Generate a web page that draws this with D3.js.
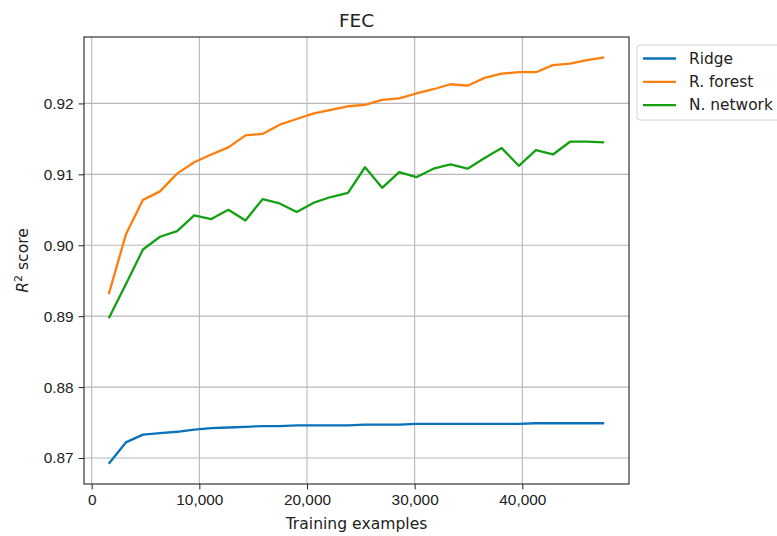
<!DOCTYPE html>
<html>
<head>
<meta charset="utf-8">
<script src="https://cdn.jsdelivr.net/npm/d3@7"></script>
<style>
  body { margin: 0; background: #fff; }
  svg { font-family: "DejaVu Sans", sans-serif; }
  .grid line { stroke: #b8b8b8; stroke-width: 1.1; }
  .axis path, .axis line { stroke: #222; }
  .axis text { fill: #222; font-size: 15.4px; }
  .line { fill: none; stroke-width: 2.3; stroke-linejoin: round; }
</style>
</head>
<body>
<svg width="777" height="536"></svg>
<script>
// training set sizes
var trainSizes = [1587, 3174, 4761, 6348, 7935, 9522, 11109, 12696, 14283, 15870,
  17457, 19044, 20631, 22218, 23805, 25392, 26979, 28566, 30153, 31740,
  33327, 34914, 36501, 38088, 39675, 41262, 42849, 44436, 46023, 47610];

var ridge = [0.8692, 0.8722, 0.8733, 0.8735, 0.8737, 0.8740, 0.8742, 0.8743, 0.8744, 0.8745,
  0.8745, 0.8746, 0.8746, 0.8746, 0.8746, 0.8747, 0.8747, 0.8747, 0.8748, 0.8748,
  0.8748, 0.8748, 0.8748, 0.8748, 0.8748, 0.8749, 0.8749, 0.8749, 0.8749, 0.8749];

var forest = [0.8931, 0.9015, 0.9064, 0.9076, 0.9101, 0.9117, 0.9128, 0.9138, 0.9155, 0.9157,
  0.9170, 0.9178, 0.9186, 0.9191, 0.9196, 0.9198, 0.9205, 0.9207, 0.9214, 0.9220,
  0.9227, 0.9225, 0.9236, 0.9242, 0.9244, 0.9244, 0.9254, 0.9256, 0.9261, 0.9265];

var network = [0.8897, 0.8945, 0.8994, 0.9012, 0.9020, 0.9042, 0.9037, 0.9050, 0.9035, 0.9065,
  0.9059, 0.9047, 0.9060, 0.9068, 0.9074, 0.9110, 0.9081, 0.9103, 0.9096, 0.9108,
  0.9114, 0.9108, 0.9123, 0.9137, 0.9112, 0.9134, 0.9128, 0.9146, 0.9146, 0.9145];

var seriesNames = ["Ridge", "R. forest", "N. network"];
var seriesColors = ["#0b72ba", "#ff7f0e", "#13a013"];
var xTicks = [0, 10000, 20000, 30000, 40000];
var yTicks = [0.87, 0.88, 0.89, 0.90, 0.91, 0.92];

var svg = d3.select("svg"),
    margin = {top: 37, right: 148, bottom: 52, left: 84},
    width = +svg.attr("width") - margin.left - margin.right,
    height = +svg.attr("height") - margin.top - margin.bottom;

var series = [ridge, forest, network].map(function(vals, i) {
  return {name: seriesNames[i], color: seriesColors[i],
          values: vals.map(function(v, j) { return {n: trainSizes[j], r2: v}; })};
});

// matplotlib-like 5% padding on both axes
var xExt = d3.extent(trainSizes),
    yExt = d3.extent(ridge.concat(forest, network)),
    xPad = (xExt[1] - xExt[0]) * 0.05,
    yPad = (yExt[1] - yExt[0]) * 0.05;

var x = d3.scaleLinear().domain([xExt[0] - xPad, xExt[1] + xPad]).range([0, width]);
var y = d3.scaleLinear().domain([yExt[0] - yPad, yExt[1] + yPad]).range([height, 0]);

var g = svg.append("g")
    .attr("transform", "translate(" + margin.left + "," + margin.top + ")");

// grid
g.append("g").attr("class", "grid")
  .selectAll("line").data(xTicks).enter().append("line")
    .attr("x1", function(d) { return x(d); })
    .attr("x2", function(d) { return x(d); })
    .attr("y1", 0).attr("y2", height);
g.append("g").attr("class", "grid")
  .selectAll("line").data(yTicks).enter().append("line")
    .attr("y1", function(d) { return y(d); })
    .attr("y2", function(d) { return y(d); })
    .attr("x1", 0).attr("x2", width);

var line = d3.line()
    .x(function(d) { return x(d.n); })
    .y(function(d) { return y(d.r2); });

g.selectAll(".line").data(series).enter().append("path")
    .attr("class", "line")
    .attr("stroke", function(d) { return d.color; })
    .attr("d", function(d) { return line(d.values); });

// axes
g.append("g")
    .attr("class", "axis")
    .attr("transform", "translate(0," + height + ")")
    .call(d3.axisBottom(x).tickValues(xTicks).tickSize(5.4).tickPadding(4.5)
      .tickFormat(d3.format(",")))
    .select(".domain").remove();

g.append("g")
    .attr("class", "axis")
    .call(d3.axisLeft(y).tickValues(yTicks).tickSize(5.4).tickPadding(5)
      .tickFormat(d3.format(".2f")))
    .select(".domain").remove();

g.append("rect")
    .attr("width", width).attr("height", height)
    .attr("fill", "none").attr("stroke", "#222").attr("stroke-width", 1.1);

// titles
svg.append("text")
    .attr("x", margin.left + width / 2).attr("y", 27)
    .attr("text-anchor", "middle")
    .style("font-size", "18.5px").attr("fill", "#222")
    .text("FEC");

svg.append("text")
    .attr("x", margin.left + width / 2).attr("y", 529)
    .attr("text-anchor", "middle")
    .style("font-size", "15.6px").attr("fill", "#222")
    .text("Training examples");

var yl = svg.append("text")
    .attr("transform", "translate(28," + (margin.top + height / 2) + ") rotate(-90)")
    .attr("text-anchor", "middle")
    .style("font-size", "15.6px").attr("fill", "#222");
yl.append("tspan").style("font-style", "italic").text("R");
yl.append("tspan").attr("dy", -6.5).style("font-size", "11px").text("2");
yl.append("tspan").attr("dy", 6.5).text(" score");

// legend
var legend = svg.append("g").attr("transform", "translate(637,45)");
legend.append("rect")
    .attr("width", 150).attr("height", 75)
    .attr("rx", 3)
    .attr("fill", "#fff").attr("stroke", "#d0d0d0").attr("stroke-width", 1);

var item = legend.selectAll(".item").data(series).enter().append("g")
    .attr("transform", function(d, i) { return "translate(0," + (13.5 + i * 23.3) + ")"; });
item.append("line")
    .attr("x1", 6).attr("x2", 39)
    .attr("stroke", function(d) { return d.color; })
    .attr("stroke-width", 2.3);
item.append("text")
    .attr("x", 52).attr("dy", "0.35em")
    .style("font-size", "15.4px").attr("fill", "#222")
    .text(function(d) { return d.name; });
</script>
</body>
</html>
